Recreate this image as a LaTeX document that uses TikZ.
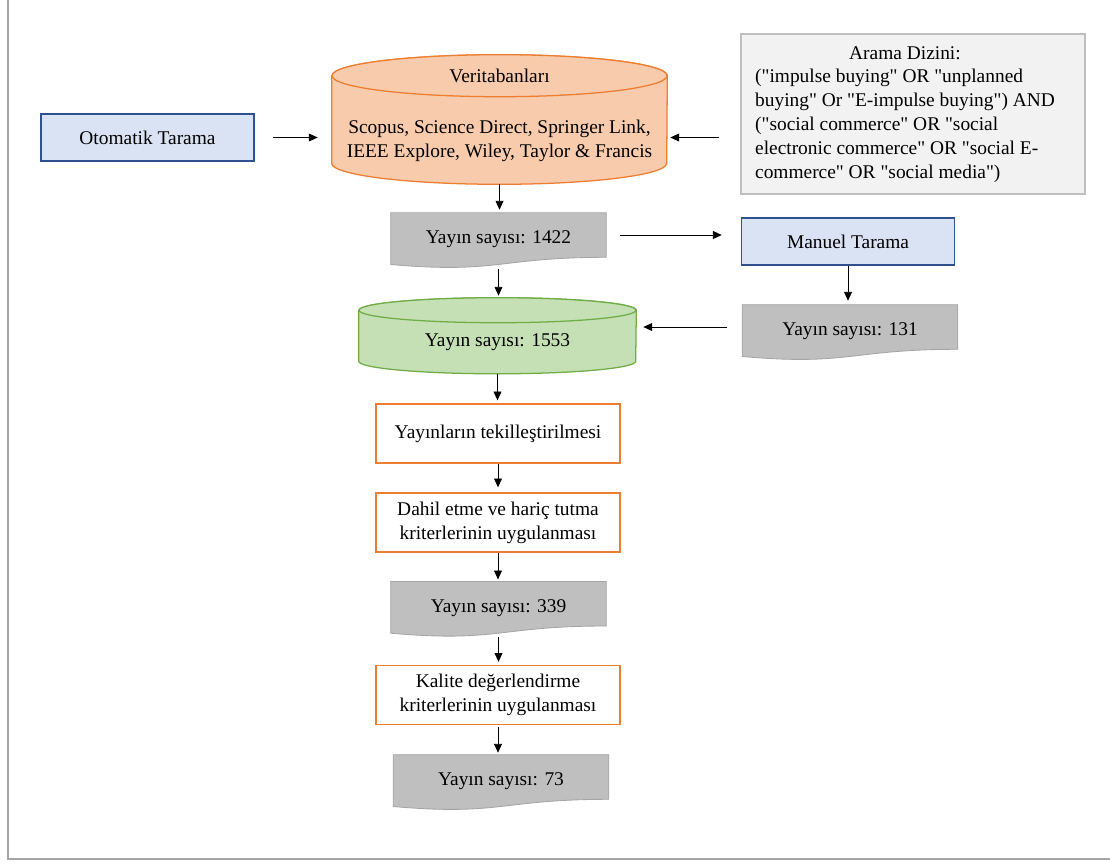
\documentclass[tikz,border=0pt]{standalone}
\usepackage{fontspec}
\setmainfont{Liberation Serif}[Ligatures=TeXOff]
\usetikzlibrary{arrows.meta,calc,backgrounds}
\definecolor{blueFill}{HTML}{DAE3F3}
\definecolor{blueLine}{HTML}{2F528F}
\definecolor{orangeFill}{HTML}{F8CBAD}
\definecolor{orangeLine}{HTML}{ED7D31}
\definecolor{greenFill}{HTML}{C5E0B4}
\definecolor{greenLine}{HTML}{70AD47}
\definecolor{docGray}{HTML}{BFBFBF}
\definecolor{docLine}{HTML}{A5A5A5}
\definecolor{queryFill}{HTML}{F2F2F2}
\definecolor{queryLine}{HTML}{BFBFBF}
\definecolor{frameGray}{HTML}{A6A6A6}

% document shape (flat top, wavy bottom) behind a node
\newcommand{\docshape}[1]{%
  \begin{scope}[on background layer]
    \path[docfill] (#1.north west) -- (#1.north east) -- (#1.south east)
      .. controls (#1.south) and ($(#1.south)+(0,16.7)$) .. ($(#1.south west)+(0,7.2)$) -- cycle;
  \end{scope}}
% cylinder behind a node: node, x radius, y radius, colours
\newcommand{\cylshape}[4]{%
  \begin{scope}[on background layer]
    \path[#4] ($(#1.north west)+(0,-#3)$) -- ($(#1.south west)+(0,-#3)$)
      arc[start angle=180, end angle=0, x radius=#2, y radius=#3]
      -- ($(#1.north east)+(0,-#3)$)
      arc[start angle=0, end angle=-180, x radius=#2, y radius=#3] -- cycle;
    \path[#4] ($(#1.north)+(0,-#3)$) ellipse[x radius=#2, y radius=#3];
  \end{scope}}

\begin{document}
\begin{tikzpicture}[x=0.025cm, y=-0.025cm,
  font=\fontsize{13.8}{17}\selectfont,
  arr/.style={-{Triangle[length=6.3pt,width=5.6pt]}, line width=0.6pt},
  searchbox/.style={draw=blueLine, fill=blueFill, line width=0.9pt, minimum width=5.33cm, minimum height=1.175cm},
  stepbox/.style={draw=orangeLine, fill=white, line width=0.9pt, align=center, minimum width=6.1cm, minimum height=1.475cm},
  docbox/.style={minimum width=5.375cm, minimum height=1.1cm, inner sep=0pt, text height=15pt, text depth=3pt},
  docfill/.style={fill=docGray, draw=docLine, line width=0.6pt},
  querybox/.style={draw=queryLine, fill=queryFill, line width=0.9pt, minimum width=8.6cm, minimum height=4cm},
  cyl/.style={inner sep=0pt, align=center}]
  \useasboundingbox (0,0) rectangle (1110,863);
  \draw[frameGray, line width=0.5mm] (8,0) -- (8,858.5) -- (1110,858.5);

  % search
  \node[searchbox] (ota) at (147.5,137.5) {Otomatik Tarama};
  \node[cyl, minimum width=8.375cm, minimum height=2.175cm] (db) at (499.5,140.5)
    {Scopus, Science Direct, Springer Link,\\IEEE Explore, Wiley, Taylor \& Francis};
  \cylshape{db}{167.5}{21}{fill=orangeFill, draw=orangeLine, line width=0.9pt}
  \node (dbtitle) at (499.5,76) {Veritabanları};
  \node[querybox] (query) at (913,114) {\hspace*{-4mm}\raisebox{-2pt}{\begin{tabular}{@{}l@{}}
    \multicolumn{1}{@{}c@{}}{Arama Dizini:}\\
    ("impulse buying" OR "unplanned\\
    buying" Or "E-impulse buying") AND\\
    ("social commerce" OR "social\\
    electronic commerce" OR "social E-\\
    commerce" OR "social media")
    \end{tabular}}};

  % counts
  \node[docbox] (n1422) at (498.5,235) {Yayın sayısı: 1422};
  \docshape{n1422}
  \node[searchbox] (manual) at (848,241.5) {Manuel Tarama};
  \node[docbox] (n131) at (850,327) {Yayın sayısı: 131};
  \docshape{n131}
  \node[cyl, minimum width=6.925cm, minimum height=1.2625cm, text depth=11.5pt] (n1553) at (497.5,348.25) {Yayın sayısı: 1553};
  \cylshape{n1553}{138.5}{12.5}{fill=greenFill, draw=greenLine, line width=0.9pt}

  % screening
  \node[stepbox] (dedup) at (498,433.5) {Yayınların tekilleştirilmesi};
  \node[stepbox] (incl) at (498,522.5) {Dahil etme ve hariç tutma\\kriterlerinin uygulanması};
  \node[docbox] (n339) at (498.5,603.7) {Yayın sayısı: 339};
  \docshape{n339}
  \node[stepbox] (qual) at (498,695) {Kalite değerlendirme\\kriterlerinin uygulanması};
  \node[docbox] (n73) at (501,777) {Yayın sayısı: 73};
  \docshape{n73}

  % arrows
  \draw[arr, shorten <=4.5mm, shorten >=3.5mm] (ota.east) -- (ota.east -| db.west);
  \draw[arr, shorten <=5.25mm, shorten >=0.75mm] (query.west |- ota.east) -- (db.east |- ota.east);
  \draw[arr, shorten >=0.75mm] (db.south) -- (db.south |- n1422.north);
  \draw[arr, shorten <=3.5mm, shorten >=4.75mm] (n1422.east) -- (n1422.east -| manual.west);
  \draw[arr, shorten >=1mm] (manual.south) -- (manual.south |- n131.north);
  \draw[arr, shorten <=3.75mm, shorten >=1.75mm] (n131.west) -- (n131.west -| n1553.east);
  \draw[arr, shorten <=3mm, shorten >=6.75mm] (n1422.south) -- (n1422.south |- n1553.north);
  \draw[arr, shorten >=0.75mm] (n1553.south) -- (n1553.south |- dedup.north);
  \draw[arr, shorten >=1.25mm] (dedup.south) -- (incl.north);
  \draw[arr, shorten >=0.5mm] (incl.south) -- (incl.south |- n339.north);
  \draw[arr, shorten <=2.75mm, shorten >=0.75mm] (n339.south) -- (n339.south |- qual.north);
  \draw[arr, shorten <=0.5mm, shorten >=0.5mm] (qual.south) -- (qual.south |- n73.north);
\end{tikzpicture}
\end{document}
